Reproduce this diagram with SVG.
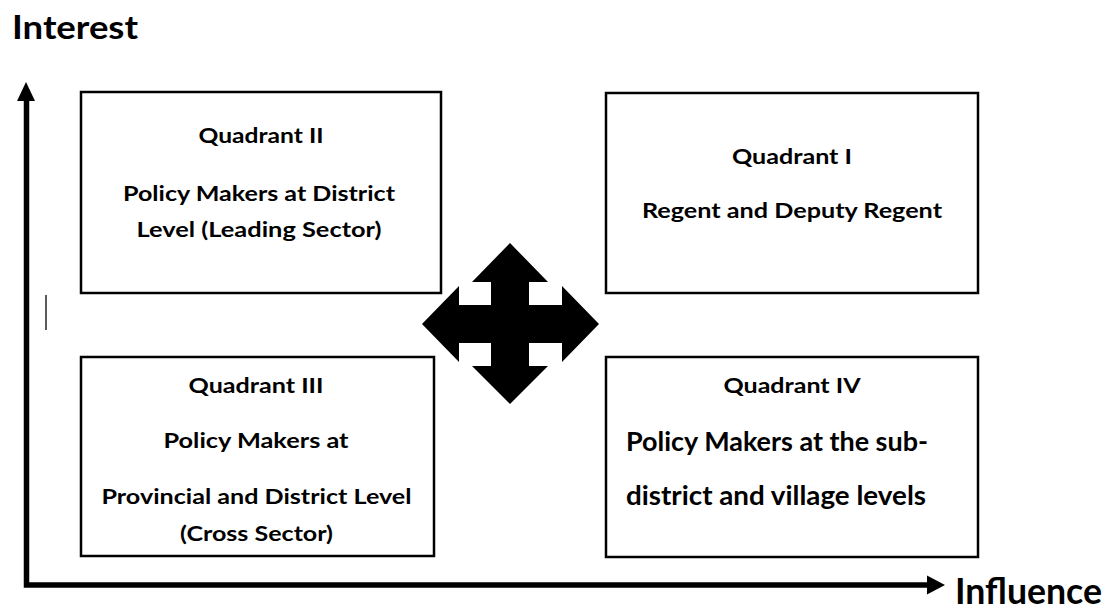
<svg xmlns="http://www.w3.org/2000/svg" width="1107" height="614" viewBox="0 0 1107 614">
  <style>
    .box { fill: #ffffff; stroke: #000000; stroke-width: 2.5; }
    .t { font-family: Lato, "Open Sans", "Liberation Sans", sans-serif; font-weight: 700; fill: #000000; }
    .s20 { font-size: 21px; }
    .s26 { font-size: 27px; }
    .mid { text-anchor: middle; }
    .axis { fill: none; stroke: #000000; stroke-width: 5.5; stroke-linejoin: miter; }
  </style>
  <rect x="0" y="0" width="1107" height="614" fill="#ffffff"/>

  <g id="label-interest">
    <text class="t" x="12" y="39" font-size="33" textLength="126" lengthAdjust="spacingAndGlyphs">Interest</text>
  </g>
  <g id="label-influence">
    <text class="t" x="955" y="604" font-size="37" textLength="147" lengthAdjust="spacingAndGlyphs">Influence</text>
  </g>

  <g id="connectors">
    <path class="axis" d="M26.5,99 L26.5,585 L929,585"/>
    <polygon points="26,82 17,101 35,101" fill="#000000"/>
    <polygon points="945,585 927,575.5 927,594.5" fill="#000000"/>
    <line x1="46" y1="295" x2="46" y2="330" stroke="#333333" stroke-width="1.6"/>
  </g>

  <g id="quadrant-2">
    <rect class="box" x="81" y="92" width="360" height="201"/>
    <text class="t s20 mid" x="261" y="143" textLength="125" lengthAdjust="spacingAndGlyphs">Quadrant II</text>
    <text class="t s20 mid" x="259" y="201" textLength="272" lengthAdjust="spacingAndGlyphs">Policy Makers at District</text>
    <text class="t s20 mid" x="259" y="237" textLength="245" lengthAdjust="spacingAndGlyphs">Level (Leading Sector)</text>
  </g>

  <g id="quadrant-1">
    <rect class="box" x="606" y="93" width="372" height="200"/>
    <text class="t s20 mid" x="792" y="164" textLength="120" lengthAdjust="spacingAndGlyphs">Quadrant I</text>
    <text class="t s20 mid" x="792" y="218" textLength="300" lengthAdjust="spacingAndGlyphs">Regent and Deputy Regent</text>
  </g>

  <g id="quadrant-3">
    <rect class="box" x="81" y="357" width="353" height="199"/>
    <text class="t s20 mid" x="256" y="393" textLength="135" lengthAdjust="spacingAndGlyphs">Quadrant III</text>
    <text class="t s20 mid" x="256" y="447.5" textLength="185" lengthAdjust="spacingAndGlyphs">Policy Makers at</text>
    <text class="t s20 mid" x="256.5" y="504" textLength="310" lengthAdjust="spacingAndGlyphs">Provincial and District Level</text>
    <text class="t s20 mid" x="256.5" y="541" textLength="153" lengthAdjust="spacingAndGlyphs">(Cross Sector)</text>
  </g>

  <g id="quadrant-4">
    <rect class="box" x="606" y="357" width="372" height="200"/>
    <text class="t s20 mid" x="792" y="393" textLength="137" lengthAdjust="spacingAndGlyphs">Quadrant IV</text>
    <text class="t s26" x="626" y="450.5" textLength="302" lengthAdjust="spacingAndGlyphs">Policy Makers at the sub-</text>
    <text class="t s26" x="626" y="505" textLength="300" lengthAdjust="spacingAndGlyphs">district and village levels</text>
  </g>

  <g id="four-way-arrow">
    <path fill="#000000" d="M510,243 L548,282 L529,282 L529,305 L562,305 L562,286 L599,324 L562,362 L562,343 L529,343 L529,366 L548,366 L510,404 L472,366 L491,366 L491,343 L459,343 L459,362 L422,324 L459,286 L459,305 L491,305 L491,282 L472,282 Z"/>
  </g>
</svg>
